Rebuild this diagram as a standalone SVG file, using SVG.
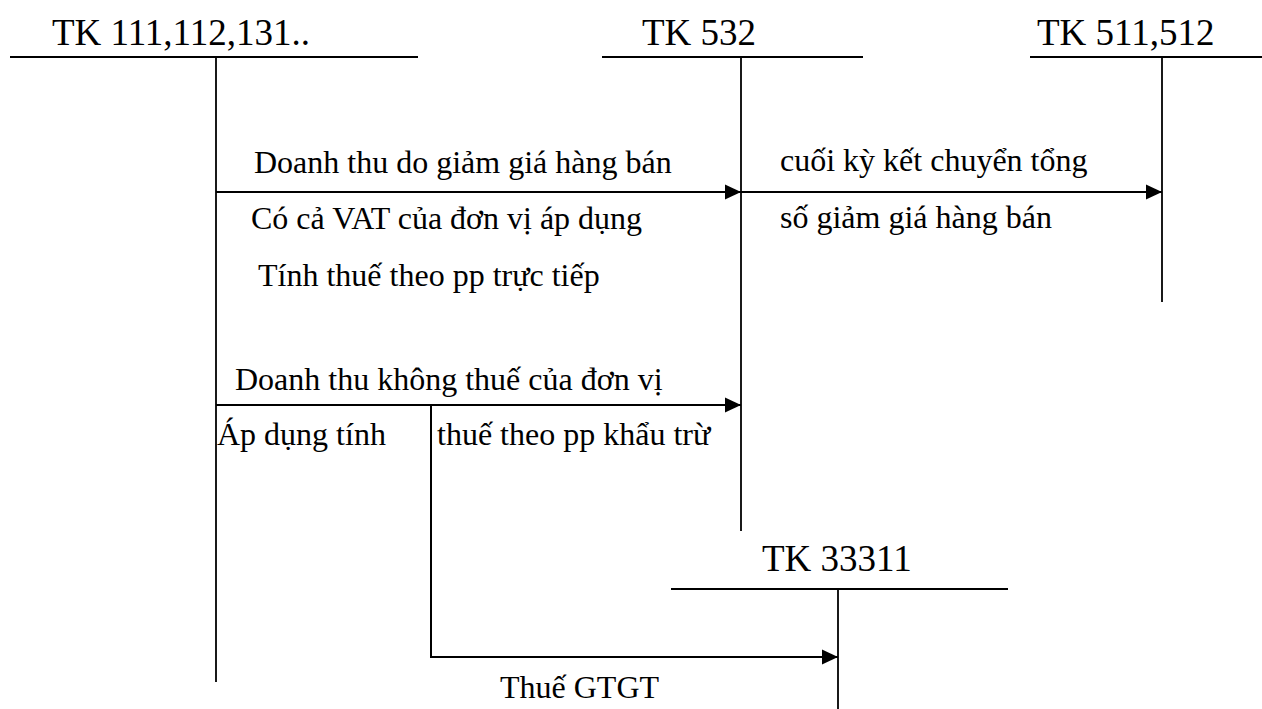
<svg xmlns="http://www.w3.org/2000/svg" width="1262" height="709" viewBox="0 0 1262 709">
<style>
.ln{stroke:#000;stroke-width:2;fill:none}
.vl{stroke:#000;stroke-width:1.8;fill:none}
text{font-family:'Liberation Serif','DejaVu Serif',serif;fill:#000}
.ttl{font-size:37px}
.lbl{font-size:32px}
</style>
<defs>
<marker id="ah" markerUnits="userSpaceOnUse" markerWidth="16" markerHeight="16" refX="16" refY="8" orient="auto">
<path d="M0,0.5 L16,8 L0,15.5 Z" fill="#000"/>
</marker>
</defs>
<rect width="1262" height="709" fill="#fff"/>
<g id="tk111">
<text class="ttl" x="52" y="45">TK 111,112,131..</text>
<line class="ln" x1="10" y1="57" x2="418" y2="57"/>
<line class="vl" x1="216" y1="57" x2="216" y2="682"/>
</g>
<g id="tk532">
<text class="ttl" x="642" y="45">TK 532</text>
<line class="ln" x1="602" y1="57" x2="863" y2="57"/>
<line class="vl" x1="741" y1="57" x2="741" y2="531"/>
</g>
<g id="tk511">
<text class="ttl" x="1037" y="45">TK 511,512</text>
<line class="ln" x1="1030" y1="57" x2="1262" y2="57"/>
<line class="vl" x1="1162" y1="57" x2="1162" y2="302"/>
</g>
<g id="tk33311">
<text class="ttl" x="762" y="571">TK 33311</text>
<line class="ln" x1="671" y1="589" x2="1008" y2="589"/>
<line class="vl" x1="838" y1="589" x2="838" y2="709"/>
</g>
<g id="connectors">
<line class="ln" x1="216" y1="192" x2="741" y2="192" marker-end="url(#ah)"/>
<line class="ln" x1="741" y1="192" x2="1162" y2="192" marker-end="url(#ah)"/>
<line class="ln" x1="216" y1="405" x2="741" y2="405" marker-end="url(#ah)"/>
<polyline class="ln" points="431,405 431,657 838,657" marker-end="url(#ah)"/>
</g>
<g id="labels">
<text class="lbl" x="254" y="173">Doanh thu do giảm giá hàng bán</text>
<text class="lbl" x="251" y="229">Có cả VAT của đơn vị áp dụng</text>
<text class="lbl" x="258" y="286">Tính thuế theo pp trực tiếp</text>
<text class="lbl" x="780" y="171">cuối kỳ kết chuyển tổng</text>
<text class="lbl" x="780" y="228">số giảm giá hàng bán</text>
<text class="lbl" x="235" y="390">Doanh thu không thuế của đơn vị</text>
<text class="lbl" x="217" y="445">Áp dụng tính</text>
<text class="lbl" x="437" y="445">thuế theo pp khẩu trừ</text>
<text class="lbl" x="500" y="698">Thuế GTGT</text>
</g>
</svg>
